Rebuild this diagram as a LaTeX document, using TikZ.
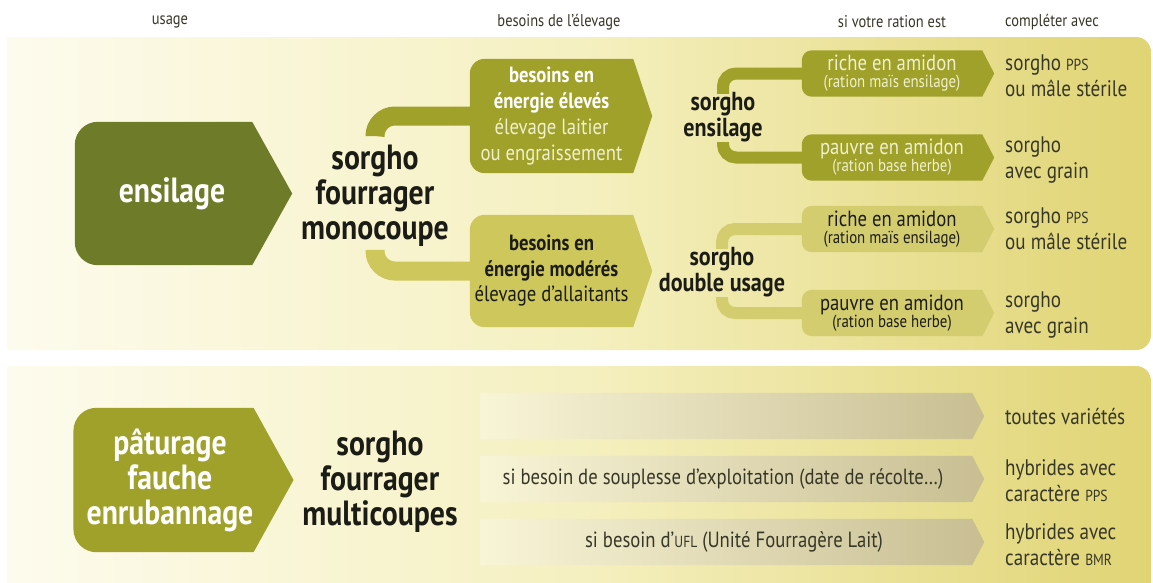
\documentclass[tikz,border=0pt]{standalone}
\usepackage{fontspec}
\setmainfont{PT Sans}[FakeStretch=0.85]
\usetikzlibrary{calc,positioning}

\definecolor{panelL}{RGB}{253,251,237}
\definecolor{panelM}{RGB}{245,240,192}
\definecolor{panelR}{RGB}{224,212,116}
\definecolor{darkolive}{RGB}{110,124,42}
\definecolor{olive}{RGB}{160,161,42}
\definecolor{lightolive}{RGB}{206,199,92}
\definecolor{paleolive}{RGB}{212,205,112}
\definecolor{barfade}{RGB}{248,245,215}
\definecolor{bartan}{RGB}{200,190,146}
\definecolor{inkdark}{RGB}{28,28,22}
\definecolor{inkgrey}{RGB}{55,55,40}
\definecolor{paletext}{RGB}{240,240,205}

\pgfdeclarelayer{panels}
\pgfdeclarelayer{shapes}
\pgfsetlayers{panels,shapes,main}

% filled tag shape behind a named node: rounded on the left, pointed on the right
\newcommand{\tagbox}[4]{%
  \begin{pgfonlayer}{shapes}
    \fill[#2] ($(#1.east)+(#3,0)$) -- (#1.north east) -- ($(#1.north west)+(#4,0)$)
      .. controls ($(#1.north west)+(0.448*#4,0)$) and ($(#1.north west)+(0,0.448*#4)$) .. ($(#1.north west)+(0,#4)$)
      -- ($(#1.south west)+(0,-#4)$)
      .. controls ($(#1.south west)+(0,-0.448*#4)$) and ($(#1.south west)+(0.448*#4,0)$) .. ($(#1.south west)+(#4,0)$)
      -- (#1.south east) -- cycle;
  \end{pgfonlayer}}
% faded bar behind a named node
\newcommand{\fadebar}[1]{%
  \begin{pgfonlayer}{shapes}
    \shade[left color=barfade, right color=bartan] (#1.north west) -- (#1.north east) -- ($(#1.east)+(12,0)$) -- (#1.south east) -- (#1.south west) -- cycle;
  \end{pgfonlayer}}
\newcommand{\smc}[1]{{\fontsize{16}{16}\selectfont #1}}

\begin{document}
\begin{tikzpicture}[x=1pt, y=-1pt,
    box/.style={inner sep=0pt, align=center},
    head/.style={font=\fontsize{17}{18}\selectfont, text=inkgrey},
    big/.style={inner sep=0pt, align=center, font=\bfseries\fontsize{35}{35}\selectfont, text=inkdark},
    mid/.style={inner sep=0pt, align=center, font=\bfseries\fontsize{26}{26}\selectfont, text=inkdark},
    side/.style={inner sep=0pt, anchor=west, align=left, font=\fontsize{22.5}{26}\selectfont, text=inkgrey},
    ration/.style={box, minimum width=180pt, minimum height=46pt, font=\fontsize{22}{17}\selectfont},
    bracket/.style={line width=19pt, rounded corners=20pt},
    twig/.style={line width=12pt, rounded corners=13pt}]

    \useasboundingbox (0,0) rectangle (1153,582);

    % Panels
    \begin{pgfonlayer}{panels}
        \fill[white] (0,0) rectangle (1153,582);
        \begin{scope}
            \clip[rounded corners=15pt] (-40,37) rectangle (1151,350);
            \shade[left color=panelL, right color=panelR, middle color=panelM] (7,37) rectangle (1151,350);
        \end{scope}
        \begin{scope}
            \clip[rounded corners=15pt] (-40,366) rectangle (1151,620);
            \shade[left color=panelL, right color=panelR, middle color=panelM] (7,366) rectangle (1151,620);
        \end{scope}
    \end{pgfonlayer}

    % Headers
    \node[head] (husage) at (170,22) {usage};
    \node[head] (hbesoin) at (559,22) {besoins de l’élevage};
    \node[head] (hration) at (892,22) {si votre ration est};
    \node[head] (hcompl) at (1052,22) {compléter avec};

    % Ensilage
    \node[box, minimum width=177pt, minimum height=143pt, text=white, font=\bfseries\fontsize{35}{35}\selectfont] (ensil) at (163.5,193.5) {\hspace*{17pt}ensilage};
    \tagbox{ensil}{darkolive}{40}{23}
    \node[big] (mono) at (375,196) {sorgho\\fourrager\\monocoupe};

    \node[box, minimum width=163pt, minimum height=114pt, font=\fontsize{22}{25.7}\selectfont] (eleve) at (551.5,116)
        {\textcolor{white}{\textbf{besoins en}}\\\textcolor{white}{\textbf{énergie élevés}}\\\textcolor{paletext}{élevage laitier}\\\textcolor{paletext}{ou engraissement}};
    \tagbox{eleve}{olive}{19}{15}
    \node[box, minimum width=163pt, minimum height=112pt, text=inkdark, font=\fontsize{22}{25.5}\selectfont] (modere) at (551.5,271)
        {\textbf{besoins en}\\\textbf{énergie modérés}\\élevage d’allaitants};
    \tagbox{modere}{lightolive}{19}{15}

    \begin{pgfonlayer}{shapes}
        \draw[bracket, olive] ([yshift=9pt]mono.north) |- (eleve.west);
        \draw[bracket, lightolive] ([yshift=-3pt]mono.south) |- (modere.west);
    \end{pgfonlayer}

    % Sorgho ensilage
    \node[mid] (sens) at (723,117) {sorgho\\ensilage};
    \node[ration, text=paletext] (riche1) at (892,73.5)
        {riche en amidon\\{\fontsize{17.5}{17}\selectfont (ration maïs ensilage)}};
    \tagbox{riche1}{olive}{12}{10}
    \node[ration, text=paletext] (pauvre1) at (892,157.5)
        {pauvre en amidon\\{\fontsize{17.5}{17}\selectfont (ration base herbe)}};
    \tagbox{pauvre1}{olive}{12}{10}
    \begin{pgfonlayer}{shapes}
        \draw[twig, olive] ([yshift=-2pt]sens.north) |- (riche1.west);
        \draw[twig, olive] (sens.south) |- (pauvre1.west);
    \end{pgfonlayer}

    % Sorgho double usage
    \node[mid] (sdu) at (722,272) {sorgho\\double usage};
    \node[ration, text=inkdark] (riche2) at (892,229)
        {riche en amidon\\{\fontsize{17.5}{17}\selectfont (ration maïs ensilage)}};
    \tagbox{riche2}{paleolive}{12}{10}
    \node[ration, text=inkdark] (pauvre2) at (892,313)
        {pauvre en amidon\\{\fontsize{17.5}{17}\selectfont (ration base herbe)}};
    \tagbox{pauvre2}{paleolive}{12}{10}
    \begin{pgfonlayer}{shapes}
        \draw[twig, paleolive] ([yshift=-2pt]sdu.north) |- (riche2.west);
        \draw[twig, paleolive] (sdu.south) |- (pauvre2.west);
    \end{pgfonlayer}

    % Compléter avec
    \node[side] (c1) at (1005,76) {sorgho \smc{PPS}\\ou mâle stérile};
    \node[side] (c2) at (1005,160) {sorgho\\avec grain};
    \node[side] (c3) at (1005,229) {sorgho \smc{PPS}\\ou mâle stérile};
    \node[side] (c4) at (1005,315) {sorgho\\avec grain};

    % Multicoupes
    \node[box, minimum width=177pt, minimum height=144pt, text=white, font=\bfseries\fontsize{35}{35}\selectfont] (pature) at (163.5,480)
        {\hspace*{13pt}pâturage\\\hspace*{13pt}fauche\\\hspace*{13pt}enrubannage};
    \tagbox{pature}{olive}{40}{23}
    \node[big] (multi) at (380,482) {sorgho\\fourrager\\multicoupes};

    \node[box, minimum width=492pt, minimum height=46pt] (bar1) at (726,416) {};
    \fadebar{bar1}
    \node[box, minimum width=492pt, minimum height=46pt, text=inkgrey, font=\fontsize{22}{24}\selectfont] (bar2) at (726,479)
        {\hspace*{-6pt}si besoin de souplesse d’exploitation (date de récolte…)};
    \fadebar{bar2}
    \node[box, minimum width=492pt, minimum height=46pt, text=inkgrey, font=\fontsize{22}{24}\selectfont] (bar3) at (726,542)
        {\hspace*{16pt}si besoin d’\smc{UFL} (Unité Fourragère Lait)};
    \fadebar{bar3}

    \node[side] (c5) at (1005,417) {toutes variétés};
    \node[side] (c6) at (1005,481) {hybrides avec\\caractère \smc{PPS}};
    \node[side] (c7) at (1005,545) {hybrides avec\\caractère \smc{BMR}};
\end{tikzpicture}
\end{document}
